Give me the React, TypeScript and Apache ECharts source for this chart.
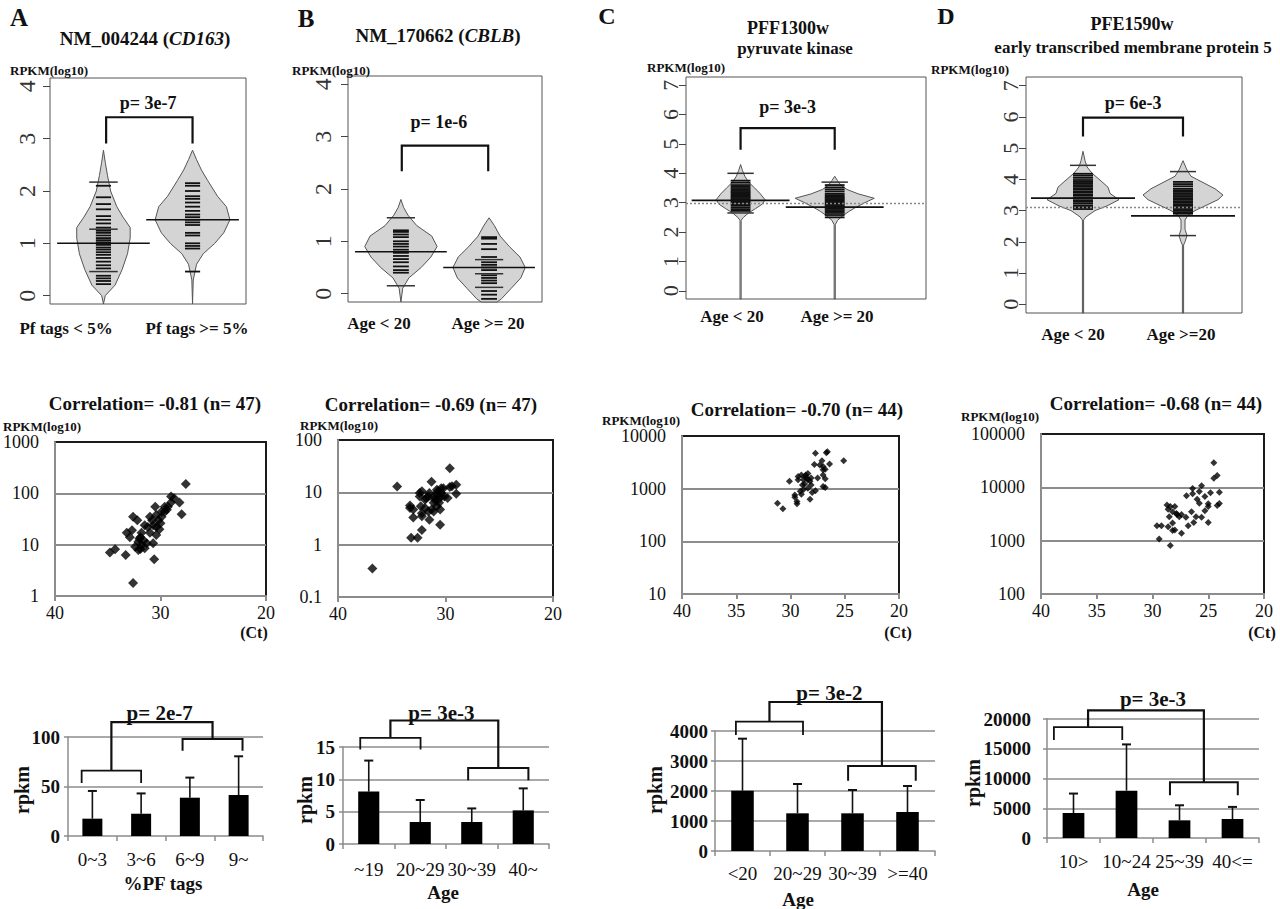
import * as echarts from "echarts";
import { useEffect, useRef } from "react";

const SERIF = '"Liberation Serif", "DejaVu Serif", serif';
const GRAY = "#8c8c8c";
const INK = "#111";

type Pair = [number, number];

// ---------- row 1: bean plots, RPKM(log10) ----------
const log4Ticks = [0, 1, 2, 3, 4];
const log7Ticks = [0, 1, 2, 3, 4, 5, 6, 7];

// A  NM_004244 (CD163): Pf tags < 5% / >= 5%
const cd163LowDensity: Pair[] = [[-0.16, 0], [0, 0.02], [0.2, 0.13], [0.5, 0.21], [0.8, 0.27], [1.1, 0.3], [1.3, 0.3], [1.5, 0.22], [1.7, 0.15], [2.0, 0.08], [2.3, 0.045], [2.55, 0.02], [2.78, 0]];
const cd163LowLines = [0.22, 0.28, 0.33, 0.38, 0.52, 0.58, 0.65, 0.72, 0.78, 0.83, 0.88, 0.92, 0.97, 1.02, 1.06, 1.1, 1.15, 1.2, 1.24, 1.3, 1.38, 1.45, 1.52, 1.65, 1.75, 1.88, 2.1];
const cd163LowWide = [0.46, 1.27, 2.17];
const cd163LowMean = 1.0;
const cd163HighDensity: Pair[] = [[-0.16, 0], [0.3, 0.008], [0.6, 0.045], [0.8, 0.12], [1.0, 0.25], [1.2, 0.35], [1.45, 0.42], [1.7, 0.38], [1.9, 0.28], [2.2, 0.17], [2.4, 0.1], [2.6, 0.045], [2.78, 0]];
const cd163HighLines = [0.46, 0.9, 0.95, 1.0, 1.15, 1.2, 1.35, 1.4, 1.45, 1.5, 1.55, 1.62, 1.7, 1.78, 1.85, 1.9, 2.0, 2.1, 2.15];
const cd163HighWide: number[] = [];
const cd163HighMean = 1.45;
const cd163Bracket = [1.03, 2.0, 2.91, 3.41];
const cd163PAt: Pair = [1.5, 3.68];

// B  NM_170662 (CBLB): Age < 20 / >= 20
const cblbYoungDensity: Pair[] = [[-0.16, 0], [0.1, 0.02], [0.3, 0.09], [0.5, 0.23], [0.7, 0.34], [0.9, 0.41], [1.1, 0.35], [1.3, 0.18], [1.5, 0.08], [1.65, 0.03], [1.8, 0]];
const cblbYoungLines = [0.4, 0.45, 0.52, 0.6, 0.66, 0.72, 0.78, 0.84, 0.9, 0.95, 1.0, 1.08, 1.13, 1.18, 1.21];
const cblbYoungWide = [0.15, 1.45];
const cblbYoungMean = 0.8;
const cblbOldDensity: Pair[] = [[-0.16, 0.09], [-0.1, 0.14], [0.1, 0.25], [0.3, 0.36], [0.5, 0.41], [0.7, 0.35], [0.9, 0.23], [1.1, 0.125], [1.3, 0.06], [1.45, 0]];
const cblbOldLines = [-0.1, -0.02, 0.05, 0.2, 0.25, 0.3, 0.35, 0.45, 0.5, 0.55, 0.6, 0.7, 0.85, 0.95, 1.05, 1.08];
const cblbOldWide = [0.12, 0.38, 0.65];
const cblbOldMean = 0.5;
const cblbBracket = [1.01, 1.99, 2.34, 2.83];
const cblbPAt: Pair = [1.43, 3.28];

// C  PFF1300w pyruvate kinase
const pffYoungDensity: Pair[] = [[-0.28, 0.006], [2.4, 0.006], [2.5, 0.03], [2.65, 0.085], [2.8, 0.16], [2.95, 0.23], [3.1, 0.26], [3.3, 0.21], [3.5, 0.15], [3.7, 0.085], [3.9, 0.045], [4.1, 0.02], [4.3, 0]];
const pffYoungLines = [2.72, 2.78, 2.84, 2.9, 2.95, 3.0, 3.04, 3.08, 3.12, 3.16, 3.2, 3.24, 3.28, 3.32, 3.36, 3.4, 3.45, 3.5, 3.55, 3.6, 3.68, 3.75];
const pffYoungWide = [2.65, 4.0];
const pffYoungMean = 3.08;
const pffOldDensity: Pair[] = [[-0.28, 0.006], [2.25, 0.006], [2.4, 0.03], [2.55, 0.085], [2.7, 0.15], [2.85, 0.23], [3.0, 0.32], [3.15, 0.42], [3.3, 0.25], [3.45, 0.13], [3.6, 0.065], [3.75, 0.03], [3.9, 0]];
const pffOldLines = [2.5, 2.58, 2.65, 2.7, 2.75, 2.8, 2.84, 2.88, 2.92, 2.96, 3.0, 3.04, 3.08, 3.12, 3.16, 3.2, 3.25, 3.3, 3.38, 3.45, 3.52, 3.6];
const pffOldWide = [3.7];
const pffOldMean = 2.85;
const pffOverall = 2.97;
const pffBracket = [1.0, 2.0, 4.8, 5.54];
const pffPAt: Pair = [1.5, 6.25];

// D  PFE1590w early transcribed membrane protein 5
const pfeYoungDensity: Pair[] = [[-0.28, 0.006], [2.7, 0.006], [2.8, 0.03], [3.0, 0.12], [3.15, 0.24], [3.35, 0.36], [3.55, 0.27], [3.75, 0.25], [3.95, 0.18], [4.2, 0.09], [4.4, 0.04], [4.6, 0.02], [4.9, 0]];
const pfeYoungLines = [3.05, 3.1, 3.15, 3.22, 3.28, 3.32, 3.38, 3.42, 3.48, 3.52, 3.58, 3.62, 3.68, 3.72, 3.78, 3.82, 3.88, 3.92, 3.98, 4.05, 4.12, 4.18];
const pfeYoungWide = [4.45];
const pfeYoungMean = 3.4;
const pfeOldDensity: Pair[] = [[-0.28, 0.006], [1.9, 0.006], [2.0, 0.02], [2.2, 0.04], [2.4, 0.02], [2.7, 0.02], [2.85, 0.05], [3.0, 0.12], [3.15, 0.22], [3.35, 0.35], [3.5, 0.4], [3.7, 0.32], [3.9, 0.2], [4.1, 0.08], [4.3, 0.04], [4.6, 0]];
const pfeOldLines = [2.9, 2.95, 3.0, 3.05, 3.1, 3.15, 3.2, 3.25, 3.3, 3.35, 3.4, 3.45, 3.5, 3.55, 3.6, 3.65, 3.7, 3.78, 3.85, 3.92];
const pfeOldWide = [2.2, 4.25];
const pfeOldMean = 2.83;
const pfeOverall = 3.1;
const pfeBracket = [1.0, 2.0, 5.37, 5.98];
const pfePAt: Pair = [1.5, 6.46];

const beanPValues = ["p= 3e-7", "p= 1e-6", "p= 3e-3", "p= 6e-3"];

// ---------- row 2: RPKM vs Ct ----------
const cd163Scatter: Pair[] = [[27.6, 152], [28.0, 39], [28.2, 66], [28.7, 80], [29.0, 87], [29.3, 55], [29.6, 44], [29.9, 35], [30.2, 30], [30.5, 55], [30.4, 22], [30.7, 24], [30.4, 15.5], [30.7, 10.6], [30.6, 5.2], [31.2, 22], [31.5, 24], [31.8, 17], [31.9, 14], [32.1, 11.4], [32.2, 30], [32.6, 35], [32.4, 9.1], [32.1, 7.9], [31.8, 9.8], [31.3, 10.6], [32.7, 19], [32.9, 14], [33.2, 17], [33.3, 6.3], [32.6, 1.8], [34.3, 8.1], [34.8, 7], [29.9, 44], [29.6, 55], [29.0, 66], [30.1, 20], [31.0, 17], [31.0, 35], [31.6, 12], [31.5, 8.5], [31.9, 8.2], [30.8, 30], [30.4, 38], [29.4, 48], [30.0, 26], [32.0, 13]];
const cblbScatter: Pair[] = [[36.8, 0.35], [34.5, 12.9], [31.3, 15.9], [29.6, 29], [29.0, 9.4], [29.0, 14], [29.6, 12.6], [29.8, 7.8], [30.1, 8.3], [30.4, 12], [30.7, 10.5], [30.8, 9.1], [31.1, 8.3], [31.5, 9.7], [31.8, 7.8], [32.2, 10.5], [32.4, 8.3], [32.3, 5.4], [31.9, 5], [31.3, 4.7], [30.8, 5.4], [30.5, 4.7], [30.5, 2.4], [33.3, 5.6], [33.0, 4.7], [33.0, 3.3], [32.2, 4], [32.2, 3.5], [31.6, 4.3], [31.5, 3.0], [32.2, 1.9], [33.2, 1.35], [32.6, 1.35], [31.1, 4.3], [31.0, 7.2], [30.7, 7.2], [30.4, 9.7], [30.2, 12], [29.4, 13], [31.9, 7.2], [31.6, 8.3], [30.8, 11.2], [32.4, 9.7], [33.3, 5], [30.4, 8.3], [30.6, 6.3], [31.1, 6.3]];
const pffScatter: Pair[] = [[31.2, 530], [30.7, 415], [30.1, 1380], [29.6, 760], [29.6, 690], [29.4, 515], [29.4, 570], [29.1, 890], [29.0, 780], [29.3, 1700], [29.0, 1820], [28.8, 1470], [28.5, 1590], [28.7, 1230], [28.4, 1950], [28.2, 1380], [28.4, 1020], [28.1, 1170], [28.0, 850], [28.2, 630], [27.7, 910], [27.8, 2880], [27.7, 4680], [27.5, 1590], [27.1, 3390], [27.0, 2630], [27.0, 2290], [26.8, 1550], [26.8, 1050], [26.7, 4790], [26.6, 5010], [26.4, 2950], [26.8, 2340], [25.1, 3390], [28.6, 1820], [28.9, 1170], [28.4, 1480], [28.1, 1590], [27.3, 2820], [27.0, 1820], [28.8, 960], [29.3, 1480], [28.7, 1700], [27.0, 1100]];
const pfeScatter: Pair[] = [[24.5, 28900], [24.5, 14800], [24.2, 16600], [24.0, 8130], [24.0, 5000], [24.2, 4570], [24.8, 7940], [25.0, 4900], [25.3, 6700], [25.3, 3630], [25.0, 2190], [25.6, 10700], [25.8, 8320], [26.0, 6000], [25.6, 2750], [26.1, 2820], [26.4, 9550], [26.4, 7590], [26.95, 6920], [26.5, 3470], [26.3, 2190], [26.8, 1910], [27.0, 2750], [27.4, 3090], [27.6, 2820], [27.4, 1380], [27.8, 3090], [28.0, 4370], [28.2, 3470], [28.4, 4370], [28.6, 3890], [28.7, 4680], [28.5, 2820], [28.2, 2140], [28.0, 1580], [28.2, 1550], [28.6, 1820], [29.2, 1910], [29.6, 1910], [29.4, 1070], [28.4, 810], [27.85, 3240], [25.0, 4370], [25.8, 5010]];
const correlations = ["Correlation= -0.81 (n= 47)", "Correlation= -0.69 (n= 47)", "Correlation= -0.70 (n= 44)", "Correlation= -0.68 (n= 44)"];

// ---------- row 3: mean rpkm by group ----------
const cd163Cats = ["0~3", "3~6", "6~9", "9~"];
const cd163Means = [17.5, 22.5, 38.7, 41.4];
const cd163Upper = [45.5, 43, 59, 80.5];
const cd163Groups = { left: [-0.22, 1.0, 53.5, 66], right: [1.85, 3.08, 86, 98], top: 115, pAt: [1.38, 124] };

const cblbCats = ["~19", "20~29", "30~39", "40~"];
const cblbMeans = [8.1, 3.4, 3.4, 5.2];
const cblbUpper = [12.9, 6.8, 5.5, 8.6];
const cblbGroups = { left: [-0.165, 1.006, 14.6, 16.4], right: [1.93, 3.1, 9.85, 11.75], top: 19.1, pAt: [1.41, 20.3] };

const pffCats = ["<20", "20~29", "30~39", ">=40"];
const pffMeans = [2010, 1256, 1256, 1300];
const pffUpper = [3744, 2233, 2033, 2167];
const pffGroups = { left: [-0.12, 1.1, 3867, 4311], right: [1.92, 3.15, 2344, 2833], top: 4967, pAt: [1.58, 5256] };

const pfeCats = ["10>", "10~24", "25~39", "40<="];
const pfeMeans = [4200, 7955, 2970, 3190];
const pfeUpper = [7470, 15730, 5500, 5225];
const pfeGroups = { left: [-0.37, 0.92, 16460, 18650], right: [1.82, 3.1, 7190, 9380], top: 21460, pAt: [1.5, 23300] };

const barPValues = ["p= 2e-7", "p= 3e-3", "p= 3e-2", "p= 3e-3"];

// ---------- layout ----------
const beanPanels = [
  {
    box: { left: 50, top: 78, width: 196, height: 226 }, xRange: [0.4, 2.6], yRange: [-0.16, 4.16], ticks: log4Ticks,
    groups: [
      { x: 1, density: cd163LowDensity, lines: cd163LowLines, wide: cd163LowWide, mean: cd163LowMean },
      { x: 2, density: cd163HighDensity, lines: cd163HighLines, wide: cd163HighWide, mean: cd163HighMean },
    ],
    overall: null as number | null, bracket: cd163Bracket, pAt: cd163PAt, p: beanPValues[0],
    lineHalf: 0.085, wideHalf: 0.16, meanHalf: 0.52, tickGap: 23, tickFont: 24,
  },
  {
    box: { left: 348, top: 76, width: 194, height: 226 }, xRange: [0.4, 2.6], yRange: [-0.16, 4.16], ticks: log4Ticks,
    groups: [
      { x: 1, density: cblbYoungDensity, lines: cblbYoungLines, wide: cblbYoungWide, mean: cblbYoungMean },
      { x: 2, density: cblbOldDensity, lines: cblbOldLines, wide: cblbOldWide, mean: cblbOldMean },
    ],
    overall: null as number | null, bracket: cblbBracket, pAt: cblbPAt, p: beanPValues[1],
    lineHalf: 0.09, wideHalf: 0.16, meanHalf: 0.52, tickGap: 25, tickFont: 24,
  },
  {
    box: { left: 686, top: 77, width: 240, height: 222 }, xRange: [0.42, 2.97], yRange: [-0.28, 7.28], ticks: log7Ticks,
    groups: [
      { x: 1, density: pffYoungDensity, lines: pffYoungLines, wide: pffYoungWide, mean: pffYoungMean },
      { x: 2, density: pffOldDensity, lines: pffOldLines, wide: pffOldWide, mean: pffOldMean },
    ],
    overall: pffOverall as number | null, bracket: pffBracket, pAt: pffPAt, p: beanPValues[2],
    lineHalf: 0.105, wideHalf: 0.14, meanHalf: 0.52, tickGap: 16, tickFont: 22,
  },
  {
    box: { left: 1026, top: 77, width: 216, height: 236 }, xRange: [0.43, 2.59], yRange: [-0.28, 7.28], ticks: log7Ticks,
    groups: [
      { x: 1, density: pfeYoungDensity, lines: pfeYoungLines, wide: pfeYoungWide, mean: pfeYoungMean },
      { x: 2, density: pfeOldDensity, lines: pfeOldLines, wide: pfeOldWide, mean: pfeOldMean },
    ],
    overall: pfeOverall as number | null, bracket: pfeBracket, pAt: pfePAt, p: beanPValues[3],
    lineHalf: 0.1, wideHalf: 0.13, meanHalf: 0.52, tickGap: 16, tickFont: 22,
  },
];

const scatterPanels = [
  { box: { left: 52, top: 442, width: 214, height: 154 }, yRange: [1, 1000], xInterval: 10, points: cd163Scatter, size: 10 },
  { box: { left: 338, top: 440, width: 215, height: 157 }, yRange: [0.1, 100], xInterval: 10, points: cblbScatter, size: 10 },
  { box: { left: 682, top: 436, width: 217, height: 158 }, yRange: [10, 10000], xInterval: 5, points: pffScatter, size: 7 },
  { box: { left: 1041, top: 434, width: 223, height: 160 }, yRange: [100, 100000], xInterval: 5, points: pfeScatter, size: 7 },
];

const barPanels = [
  { box: { left: 68, top: 737, width: 195, height: 99 }, max: 100, interval: 50, cats: cd163Cats, means: cd163Means, upper: cd163Upper, groups: cd163Groups, p: barPValues[0], labelMargin: 14, yMargin: 8 },
  { box: { left: 343, top: 747, width: 206, height: 97 }, max: 15, interval: 5, cats: cblbCats, means: cblbMeans, upper: cblbUpper, groups: cblbGroups, p: barPValues[1], labelMargin: 16, yMargin: 8 },
  { box: { left: 715, top: 731, width: 220, height: 120 }, max: 4000, interval: 1000, cats: pffCats, means: pffMeans, upper: pffUpper, groups: pffGroups, p: barPValues[2], labelMargin: 13, yMargin: 7 },
  { box: { left: 1047, top: 719, width: 212, height: 119 }, max: 20000, interval: 5000, cats: pfeCats, means: pfeMeans, upper: pfeUpper, groups: pfeGroups, p: barPValues[3], labelMargin: 14, yMargin: 16 },
];

function font(size: number, bold = true) {
  return `${bold ? "bold " : ""}${size}px ${SERIF}`;
}

function text(str: string, x: number, y: number, size: number, opts: any = {}) {
  return {
    type: "text",
    x,
    y,
    rotation: opts.rotation ?? 0,
    z: 10,
    style: {
      text: str,
      font: font(size, opts.bold ?? true),
      fill: opts.fill ?? INK,
      textAlign: opts.align ?? "center",
      textVerticalAlign: "middle",
    },
  };
}

function richTitle(name: string, gene: string, x: number, y: number) {
  const base = { fontFamily: SERIF, fontSize: 19, fontWeight: "bold", fill: INK };
  return {
    type: "text",
    x,
    y,
    z: 10,
    style: {
      text: `{n|${name} (}{i|${gene}}{n|)}`,
      rich: { n: base, i: { ...base, fontStyle: "italic" } },
      textAlign: "center",
      textVerticalAlign: "middle",
    },
  };
}

const freeTexts = [
  text("A", 19, 17, 25),
  text("B", 306, 18, 25),
  text("C", 607, 16, 24),
  text("D", 946, 16, 24),
  richTitle("NM_004244", "CD163", 145, 38),
  richTitle("NM_170662", "CBLB", 438, 35),
  text("PFF1300w", 788, 28, 18),
  text("pyruvate kinase", 795, 48, 17),
  text("PFE1590w", 1132, 24, 18),
  text("early transcribed membrane protein 5", 1133, 47, 17),
  text("RPKM(log10)", 10, 70, 13, { align: "left" }),
  text("RPKM(log10)", 292, 70, 13, { align: "left" }),
  text("RPKM(log10)", 647, 67, 13, { align: "left" }),
  text("RPKM(log10)", 931, 69, 13, { align: "left" }),
  text("Pf tags < 5%", 66, 328, 17),
  text("Pf tags >= 5%", 197, 328, 17),
  text("Age < 20", 379, 323, 17),
  text("Age >= 20", 488, 323, 17),
  text("Age < 20", 732, 316, 17),
  text("Age >= 20", 837, 316, 17),
  text("Age < 20", 1073, 334, 17),
  text("Age >=20", 1181, 334, 17),
  text(correlations[0], 155, 403, 19),
  text(correlations[1], 431, 404, 19),
  text(correlations[2], 797, 409, 19),
  text(correlations[3], 1156, 403, 19),
  text("RPKM(log10)", 3, 426, 13, { align: "left" }),
  text("RPKM(log10)", 300, 425, 13, { align: "left" }),
  text("RPKM(log10)", 602, 420, 13, { align: "left" }),
  text("RPKM(log10)", 961, 416, 13, { align: "left" }),
  text("(Ct)", 254, 632, 16),
  text("(Ct)", 898, 632, 16),
  text("(Ct)", 1262, 632, 16),
  text("rpkm", 22, 790, 20, { rotation: Math.PI / 2 }),
  text("rpkm", 305, 800, 20, { rotation: Math.PI / 2 }),
  text("rpkm", 655, 790, 20, { rotation: Math.PI / 2 }),
  text("rpkm", 973, 783, 20, { rotation: Math.PI / 2 }),
  text("%PF tags", 163, 883, 19),
  text("Age", 443, 892, 19),
  text("Age", 798, 899, 19),
  text("Age", 1143, 889, 19),
];

function beanRender(panel: any) {
  return (params: any, api: any) => {
    const g = panel.groups[params.dataIndex];
    const x = g.x;
    const outline = [
      ...g.density.map(([y, w]: Pair) => api.coord([x - w, y])),
      ...g.density.slice().reverse().map(([y, w]: Pair) => api.coord([x + w, y])),
    ];
    const hline = (y: number, half: number, color: string, width: number) => {
      const a = api.coord([x - half, y]);
      const b = api.coord([x + half, y]);
      return { type: "line", shape: { x1: a[0], y1: a[1], x2: b[0], y2: b[1] }, style: { stroke: color, lineWidth: width } };
    };
    return {
      type: "group",
      children: [
        { type: "polygon", shape: { points: outline }, style: { fill: "#d4d4d4", stroke: "#555", lineWidth: 1 } },
        ...g.lines.map((v: number) => hline(v, panel.lineHalf, INK, 1.8)),
        ...g.wide.map((v: number) => hline(v, panel.wideHalf, "#333", 1.5)),
        hline(g.mean, panel.meanHalf, INK, 1.6),
      ],
    };
  };
}

// bracket, p-value and overall dotted mean
function beanBracketRender(panel: any) {
  return (params: any, api: any) => {
    const [x1, x2, yEnd, yTop] = panel.bracket;
    const pts = [[x1, yEnd], [x1, yTop], [x2, yTop], [x2, yEnd]].map((d) => api.coord(d));
    const lbl = api.coord(panel.pAt);
    const children: any[] = [
      { type: "polyline", shape: { points: pts }, style: { stroke: INK, lineWidth: 2.2, fill: "none" } },
      {
        type: "text", x: lbl[0], y: lbl[1],
        style: { text: panel.p, font: font(18), fill: INK, textAlign: "center", textVerticalAlign: "middle" },
      },
    ];
    if (panel.overall != null) {
      const cs = params.coordSys;
      const y = api.coord([panel.xRange[0], panel.overall])[1];
      children.unshift({
        type: "line",
        shape: { x1: cs.x, y1: y, x2: cs.x + cs.width, y2: y },
        style: { stroke: "#888", lineWidth: 1.5, lineDash: [2, 2] },
      });
    }
    return { type: "group", children };
  };
}

function errorRender(_params: any, api: any) {
  const i = api.value(0);
  const base = api.coord([i, api.value(1)]);
  const top = api.coord([i, api.value(2)]);
  return {
    type: "group",
    children: [
      { type: "line", shape: { x1: base[0], y1: base[1], x2: top[0], y2: top[1] }, style: { stroke: INK, lineWidth: 1.6 } },
      { type: "line", shape: { x1: top[0] - 4.5, y1: top[1], x2: top[0] + 4.5, y2: top[1] }, style: { stroke: INK, lineWidth: 2 } },
    ],
  };
}

function barBracketRender(panel: any) {
  return (_params: any, api: any) => {
    const b = panel.groups;
    const [l1, l2, lEnd, lTop] = b.left;
    const [r1, r2, rEnd, rTop] = b.right;
    const lMid = (l1 + l2) / 2;
    const rMid = (r1 + r2) / 2;
    const poly = (pts: number[][], w: number) => ({
      type: "polyline",
      shape: { points: pts.map((d) => api.coord(d)) },
      style: { stroke: INK, lineWidth: w, fill: "none" },
    });
    const lbl = api.coord(b.pAt);
    return {
      type: "group",
      children: [
        poly([[l1, lEnd], [l1, lTop], [l2, lTop], [l2, lEnd]], 1.8),
        poly([[r1, rEnd], [r1, rTop], [r2, rTop], [r2, rEnd]], 2),
        poly([[lMid, lTop], [lMid, b.top], [rMid, b.top], [rMid, rTop]], 2.2),
        {
          type: "text", x: lbl[0], y: lbl[1],
          style: { text: panel.p, font: font(21), fill: INK, textAlign: "center", textVerticalAlign: "middle" },
        },
      ],
    };
  };
}

function buildOption() {
  const grid: any[] = [];
  const xAxis: any[] = [];
  const yAxis: any[] = [];
  const series: any[] = [];

  beanPanels.forEach((p) => {
    const gi = grid.length;
    grid.push({ ...p.box, show: true, borderColor: "#555", borderWidth: 1 });
    const xi = xAxis.length;
    xAxis.push({ type: "value", gridIndex: gi, min: p.xRange[0], max: p.xRange[1], show: false, axisLine: { onZero: false } });
    const yi = yAxis.length;
    yAxis.push({
      type: "value", gridIndex: gi, min: p.yRange[0], max: p.yRange[1],
      axisLine: { show: false, onZero: false },
      axisTick: { show: true, length: 7, lineStyle: { color: "#444" }, customValues: p.ticks },
      axisLabel: { show: false },
      splitLine: { show: false },
    });
    series.push({ type: "custom", xAxisIndex: xi, yAxisIndex: yi, silent: true, data: p.groups.map((g) => [g.x, g.mean]), renderItem: beanRender(p) });
    series.push({ type: "custom", xAxisIndex: xi, yAxisIndex: yi, silent: true, data: [[p.bracket[0], p.bracket[3]]], renderItem: beanBracketRender(p) });
  });

  scatterPanels.forEach((p) => {
    const gi = grid.length;
    grid.push({ ...p.box, show: true, borderColor: "#1a1a1a", borderWidth: 2 });
    const xi = xAxis.length;
    xAxis.push({
      type: "value", gridIndex: gi, inverse: true, min: 20, max: 40, interval: p.xInterval,
      axisLine: { show: true, onZero: false, lineStyle: { color: GRAY, width: 2 } },
      axisTick: { show: true, length: 5, lineStyle: { color: GRAY, width: 2 } },
      axisLabel: { fontFamily: SERIF, fontSize: 18, color: INK, margin: 8 },
      splitLine: { show: false },
    });
    const yi = yAxis.length;
    yAxis.push({
      type: "log", logBase: 10, gridIndex: gi, min: p.yRange[0], max: p.yRange[1],
      axisLine: { show: true, onZero: false, lineStyle: { color: GRAY, width: 2 } },
      axisTick: { show: false },
      axisLabel: { fontFamily: SERIF, fontSize: 18, color: INK, margin: 16, formatter: (v: number) => String(Number(v.toPrecision(6))) },
      splitLine: { show: true, showMinLine: false, showMaxLine: false, lineStyle: { color: GRAY, width: 2 } },
    });
    series.push({
      type: "scatter", xAxisIndex: xi, yAxisIndex: yi, silent: true, data: p.points,
      symbol: "diamond", symbolSize: p.size, itemStyle: { color: "#000" },
    });
  });

  barPanels.forEach((p) => {
    const gi = grid.length;
    grid.push({ ...p.box, show: false });
    const xc = xAxis.length;
    xAxis.push({
      type: "category", gridIndex: gi, data: p.cats,
      axisLine: { show: true, onZero: false, lineStyle: { color: GRAY, width: 1.5 } },
      axisTick: { show: true, length: 5, lineStyle: { color: GRAY, width: 1.5 } },
      axisLabel: { interval: 0, fontFamily: SERIF, fontSize: 19, color: INK, margin: p.labelMargin },
      splitLine: { show: false },
    });
    const xv = xAxis.length;
    xAxis.push({ type: "value", gridIndex: gi, min: -0.5, max: 3.5, show: false, axisLine: { onZero: false } });
    const yi = yAxis.length;
    yAxis.push({
      type: "value", gridIndex: gi, min: 0, max: p.max, interval: p.interval,
      axisLine: { show: true, onZero: false, lineStyle: { color: GRAY, width: 1.5 } },
      axisTick: { show: true, length: 4, lineStyle: { color: GRAY, width: 1.5 } },
      axisLabel: { fontFamily: SERIF, fontSize: 19, fontWeight: "bold", color: INK, margin: p.yMargin, formatter: (v: number) => String(v) },
      splitLine: { show: true, showMinLine: false, lineStyle: { color: GRAY, width: 1.5 } },
    });
    series.push({ type: "bar", xAxisIndex: xc, yAxisIndex: yi, silent: true, data: p.means, barWidth: "41%", itemStyle: { color: "#000" } });
    series.push({ type: "custom", xAxisIndex: xv, yAxisIndex: yi, silent: true, data: p.means.map((m, i) => [i, m, p.upper[i]]), renderItem: errorRender });
    series.push({ type: "custom", xAxisIndex: xv, yAxisIndex: yi, silent: true, data: [[p.groups.left[0], p.groups.top]], renderItem: barBracketRender(p) });
  });

  return {
    animation: false,
    backgroundColor: "#fff",
    grid,
    xAxis,
    yAxis,
    series,
    graphic: freeTexts,
  };
}

export default function App() {
  const ref = useRef<HTMLDivElement | null>(null);

  useEffect(() => {
    if (!ref.current) {
      return;
    }
    document.body.style.margin = "0";
    const chart = echarts.init(ref.current, null, { renderer: "svg" });
    chart.setOption(buildOption());

    // R-style y tick labels of the bean plots, read sideways, placed through the axis scale
    const tickTexts = beanPanels.flatMap((p, gi) =>
      p.ticks.map((t) => {
        const pos = chart.convertToPixel({ gridIndex: gi }, [p.xRange[0], t]) as number[];
        return text(String(t), pos[0] - p.tickGap, pos[1], p.tickFont, { bold: false, rotation: Math.PI / 2, fill: "#333" });
      }),
    );
    chart.setOption({ graphic: [...freeTexts, ...tickTexts] });

    return () => {
      chart.dispose();
    };
  }, []);

  return <div ref={ref} style={{ width: 1280, height: 909 }} />;
}
